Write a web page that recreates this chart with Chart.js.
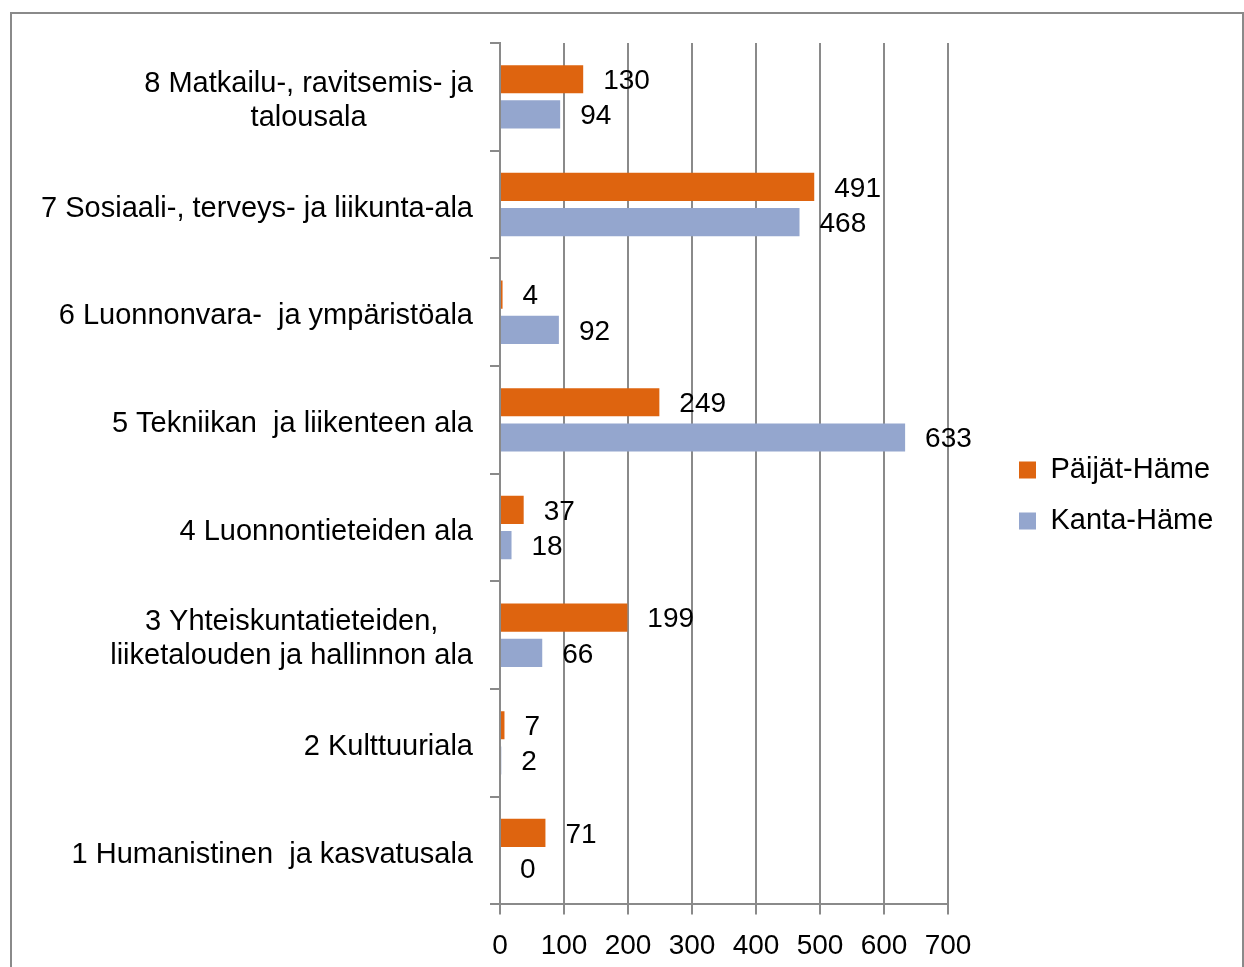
<!DOCTYPE html>
<html>
<head>
<meta charset="utf-8">
<script src="https://cdn.jsdelivr.net/npm/chart.js@4/dist/chart.umd.min.js"></script>
<style>
  body { margin: 0; background: #fff; overflow: hidden; }
  #box {
    position: absolute; left: 10px; top: 12px;
    width: 1230px; height: 1000px;
    border: 2px solid #8a8a8a;
  }
</style>
</head>
<body>
<div id="box"><canvas id="myChart"></canvas></div>
<script>
// Koulutusalat (ylhäältä alas)
const categories = [
    ['8 Matkailu-, ravitsemis- ja', 'talousala'],
    '7 Sosiaali-, terveys- ja liikunta-ala',
    '6 Luonnonvara-  ja ympäristöala',
    '5 Tekniikan  ja liikenteen ala',
    '4 Luonnontieteiden ala',
    ['3 Yhteiskuntatieteiden,', 'liiketalouden ja hallinnon ala'],
    '2 Kulttuuriala',
    '1 Humanistinen  ja kasvatusala'
];
const paijatHame = [130, 491, 4, 249, 37, 199, 7, 71];
const kantaHame = [94, 468, 92, 633, 18, 66, 2, 0];
const xTicks = [0, 100, 200, 300, 400, 500, 600, 700];

const FAMILY = '"Liberation Sans", Arial, sans-serif';
const TEXT_FONT = { family: FAMILY, size: 29 };
const NUM_FONT = { family: FAMILY, size: 28 };
const GRID = '#8a8a8a';

// Arvot palkkien perään
const valueLabels = {
    id: 'valueLabels',
    afterDatasetsDraw(chart) {
        const ctx = chart.ctx;
        ctx.save();
        ctx.font = NUM_FONT.size + 'px ' + FAMILY;
        ctx.fillStyle = '#000';
        ctx.textAlign = 'left';
        ctx.textBaseline = 'middle';
        chart.data.datasets.forEach((ds, i) => {
            chart.getDatasetMeta(i).data.forEach((bar, j) => {
                ctx.fillText(String(ds.data[j]), bar.x + 20, bar.y + 2);
            });
        });
        ctx.restore();
    }
};

// Monirivinen luokkanimi keskitetään, lohko tasataan oikealle
const yLabels = {
    id: 'yLabels',
    afterDraw(chart) {
        const ctx = chart.ctx;
        const scale = chart.scales.y;
        const right = chart.chartArea.left - 27;
        const lh = 34;
        ctx.save();
        ctx.font = TEXT_FONT.size + 'px ' + FAMILY;
        ctx.fillStyle = '#000';
        ctx.textAlign = 'center';
        ctx.textBaseline = 'middle';
        categories.forEach((lab, i) => {
            const lines = Array.isArray(lab) ? lab : [lab];
            const w = Math.max(...lines.map(l => ctx.measureText(l).width));
            const cx = right - w / 2;
            const y0 = scale.getPixelForTick(i) - (lines.length - 1) * lh / 2 + 4;
            lines.forEach((l, k) => ctx.fillText(l, cx, y0 + k * lh));
        });
        ctx.restore();
    }
};

// Selite hieman irti piirtoalueesta
const legendShift = {
    id: 'legendShift',
    afterLayout(chart) {
        const lg = chart.legend;
        const dx = chart.chartArea.right + 49 - lg.left;
        lg.left += dx;
        lg.right += dx;
        lg.top -= 15;
        lg.bottom -= 15;
    }
};

const ctx = document.getElementById('myChart').getContext('2d');
const myChart = new Chart(ctx, {
    type: 'bar',
    data: {
        labels: categories,
        datasets: [{
            label: 'Päijät-Häme',
            data: paijatHame,
            backgroundColor: '#DE640F',
            categoryPercentage: 0.654,
            barPercentage: 0.8
        }, {
            label: 'Kanta-Häme',
            data: kantaHame,
            backgroundColor: '#94A6CE',
            categoryPercentage: 0.654,
            barPercentage: 0.8
        }]
    },
    options: {
        indexAxis: 'y',
        responsive: true,
        maintainAspectRatio: false,
        animation: false,
        layout: { padding: { left: 18, top: 29, right: 22, bottom: 36 } },
        scales: {
            x: {
                min: 0,
                max: 700,
                afterBuildTicks(scale) {
                    scale.ticks = xTicks.map(v => ({ value: v }));
                },
                afterFit(scale) {
                    scale.paddingRight = 294; // tilaa selitteelle
                },
                grid: { color: GRID, lineWidth: 2, tickLength: 10 },
                border: { color: GRID, width: 2 },
                ticks: { font: NUM_FONT, color: '#000', padding: 15 }
            },
            y: {
                afterFit(scale) {
                    scale.width = 470;
                    scale.paddingTop = 0;
                    scale.paddingBottom = 0;
                },
                grid: { drawOnChartArea: false, color: GRID, lineWidth: 2, tickLength: 10 },
                border: { color: GRID, width: 2 },
                ticks: { font: TEXT_FONT, color: 'rgba(0,0,0,0)', padding: 17 }
            }
        },
        plugins: {
            legend: {
                position: 'right',
                labels: {
                    font: TEXT_FONT,
                    color: '#000',
                    boxWidth: 17,
                    boxHeight: 17,
                    padding: 22
                }
            },
            tooltip: { enabled: false }
        }
    },
    plugins: [valueLabels, yLabels, legendShift]
});
</script>
</body>
</html>
